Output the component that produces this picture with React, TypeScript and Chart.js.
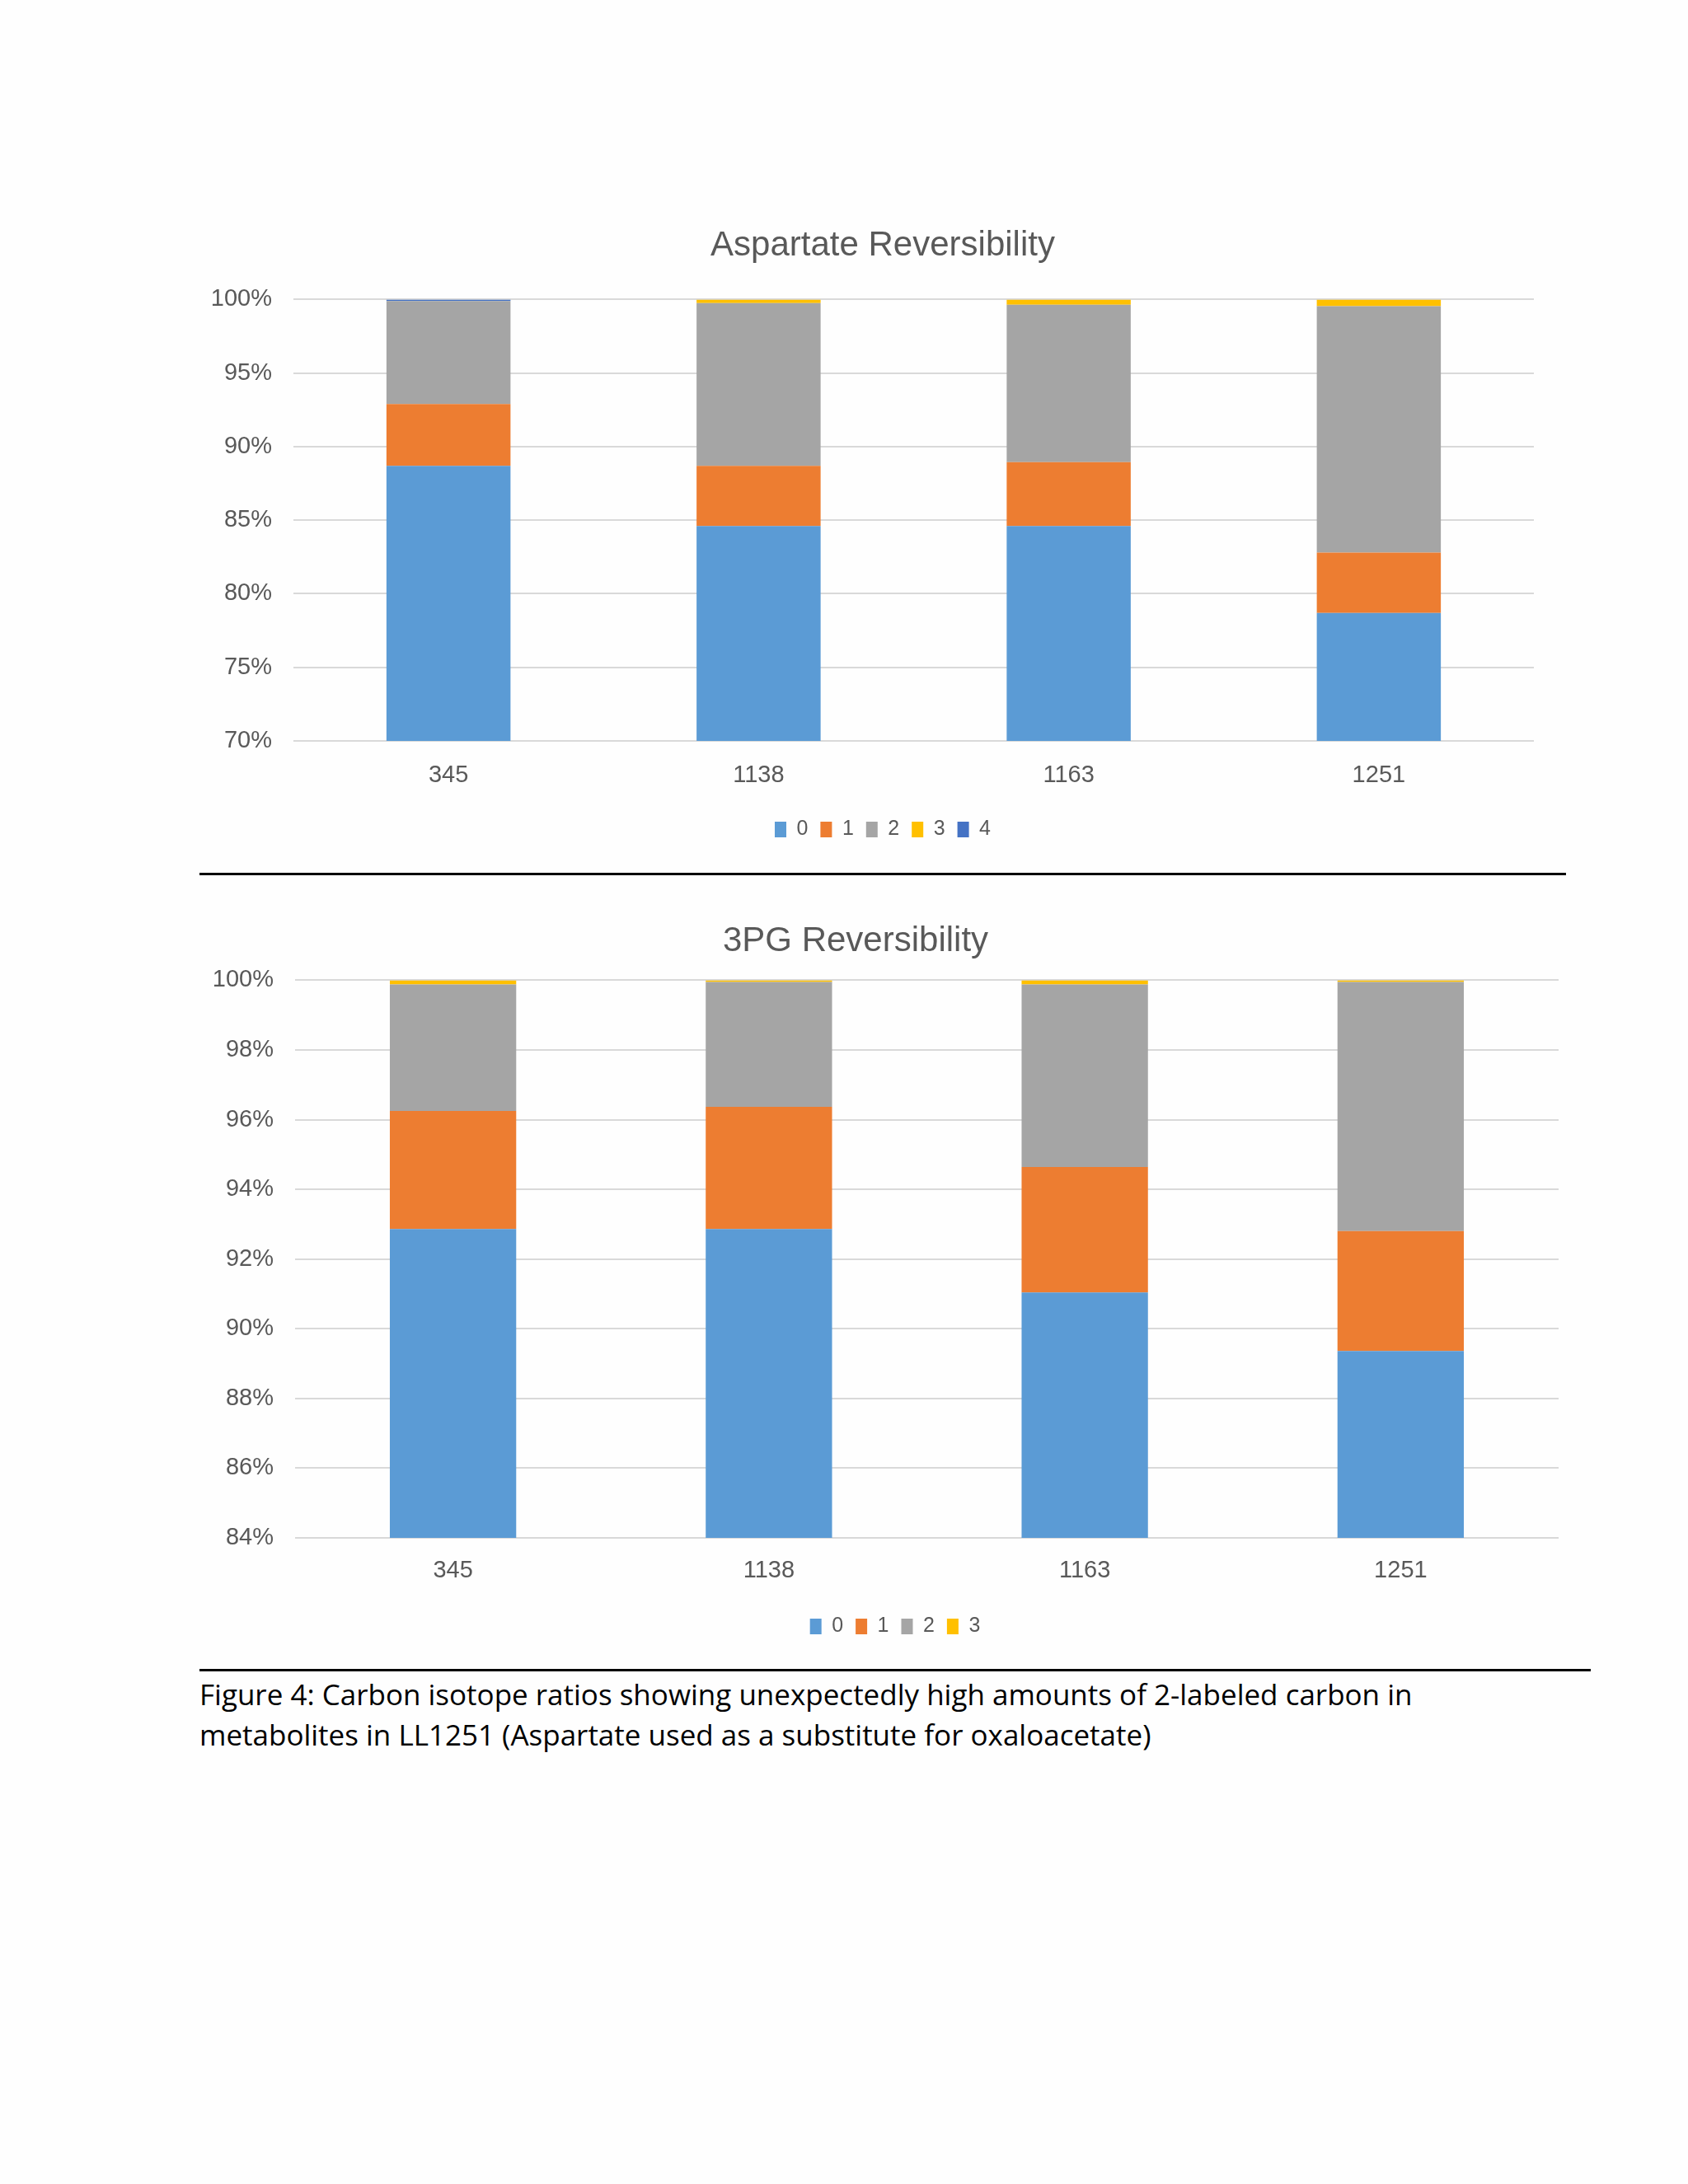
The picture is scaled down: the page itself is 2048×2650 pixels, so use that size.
import { useEffect, useRef } from "react";
import Chart from "chart.js/auto";

// strains on the x axis (same for both panels)
const categories = ["345", "1138", "1163", "1251"];

// Aspartate Reversibility, % of pool per number of labelled carbons
const aspartate0 = [88.7, 84.6, 84.6, 78.7];
const aspartate1 = [4.2, 4.1, 4.35, 4.1];
const aspartate2 = [7.0, 11.05, 10.7, 16.75];
const aspartate3 = [0.0, 0.25, 0.35, 0.45];
const aspartate4 = [0.1, 0.0, 0.0, 0.0];

// 3PG Reversibility
const pg0 = [92.86, 92.86, 91.04, 89.36];
const pg1 = [3.39, 3.51, 3.6, 3.44];
const pg2 = [3.63, 3.58, 5.24, 7.15];
const pg3 = [0.12, 0.05, 0.12, 0.05];

const isotopeLabels = ["0", "1", "2", "3", "4"];
const colors = ["#5B9BD5", "#ED7D31", "#A5A5A5", "#FFC000", "#4472C4"];

const chartFont = '"Liberation Sans Narrow", "Liberation Sans", sans-serif';
const textColor = "#595959";

const StackedChart = ({ title, series, min, max, step, box, titleOffset, titlePad, tickPad }) => {
  const canvasRef = useRef(null);

  useEffect(() => {
    if (!canvasRef.current) return;

    const chart = new Chart(canvasRef.current, {
      type: "bar",
      data: {
        labels: categories,
        datasets: series.map((values, i) => ({
          label: isotopeLabels[i],
          data: values,
          backgroundColor: colors[i],
          borderWidth: 0,
          barPercentage: 0.4,
          categoryPercentage: 1,
        })),
      },
      options: {
        animation: false,
        responsive: true,
        maintainAspectRatio: false,
        layout: { padding: 0 },
        scales: {
          x: {
            stacked: true,
            grid: { display: false },
            border: { display: false },
            ticks: { color: textColor, padding: tickPad, font: { family: chartFont, size: 29 } },
            afterFit: (s) => {
              s.height = box.xh;
            },
          },
          y: {
            stacked: true,
            min,
            max,
            grid: { color: "#D9D9D9", lineWidth: 2, drawTicks: false },
            border: { display: false },
            ticks: {
              stepSize: step,
              color: textColor,
              padding: 26,
              font: { family: chartFont, size: 29 },
              callback: (v) => v + "%",
            },
            afterFit: (s) => {
              s.width = box.yw;
            },
          },
          yr: {
            position: "right",
            grid: { display: false },
            border: { display: false },
            ticks: { display: false },
            afterFit: (s) => {
              s.width = box.rw;
            },
          },
        },
        plugins: {
          title: {
            display: true,
            text: title,
            color: textColor,
            font: { family: chartFont, size: 42, weight: "normal" },
            padding: titlePad,
          },
          legend: {
            position: "bottom",
            labels: {
              color: textColor,
              boxWidth: 14,
              boxHeight: 19,
              padding: 15,
              font: { family: chartFont, size: 25 },
            },
          },
          tooltip: { enabled: false },
        },
      },
      plugins: [
        {
          id: "titleShift",
          afterLayout: (c) => {
            const t = c.titleBlock;
            if (t && titleOffset) {
              t.left += titleOffset;
              t.right += titleOffset;
            }
          },
        },
      ],
    });

    return () => {
      chart.destroy();
    };
  }, []);

  return (
    <div style={{ position: "absolute", left: box.left, top: box.top, width: box.width, height: box.height }}>
      <canvas ref={canvasRef}></canvas>
    </div>
  );
};

const App = () => {
  return (
    <div style={{ position: "absolute", left: 0, top: 0, width: 2048, height: 2650, background: "#FEFEFE" }}>
      <StackedChart
        title="Aspartate Reversibility"
        series={[aspartate0, aspartate1, aspartate2, aspartate3, aspartate4]}
        min={70}
        max={100}
        step={5}
        box={{ left: 242, top: 250, width: 1658, height: 779, yw: 114, rw: 39, xh: 80 }}
        titleOffset={0}
        titlePad={{ top: 23, bottom: 40 }}
        tickPad={17}
      />
      <div style={{ position: "absolute", left: 242, top: 1059, width: 1658, height: 3, background: "#000" }} />
      <StackedChart
        title="3PG Reversibility"
        series={[pg0, pg1, pg2, pg3]}
        min={84}
        max={100}
        step={2}
        box={{ left: 242, top: 1090, width: 1688, height: 906, yw: 116, rw: 39, xh: 80 }}
        titleOffset={-48}
        titlePad={{ top: 27, bottom: 22 }}
        tickPad={15}
      />
      <div style={{ position: "absolute", left: 242, top: 2025, width: 1688, height: 3, background: "#000" }} />
      <div
        style={{
          position: "absolute",
          left: 242,
          top: 2031,
          fontFamily: '"Open Sans", sans-serif',
          fontSize: 35,
          lineHeight: "49px",
          color: "#000",
          whiteSpace: "nowrap",
        }}
      >
        Figure 4: Carbon isotope ratios showing unexpectedly high amounts of 2-labeled carbon in
        <br />
        metabolites in LL1251 (Aspartate used as a substitute for oxaloacetate)
      </div>
    </div>
  );
};

export default App;
